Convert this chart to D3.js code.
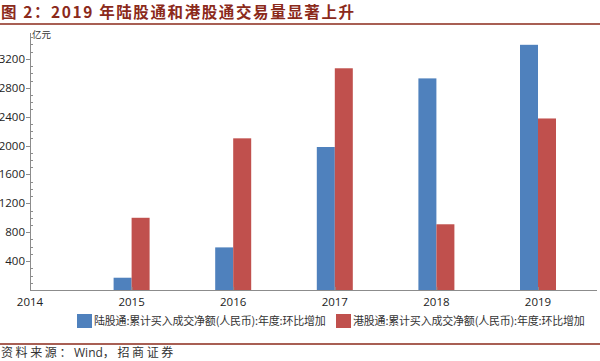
<!DOCTYPE html>
<html><head><meta charset="utf-8">
<script src="https://cdn.jsdelivr.net/npm/d3@7/dist/d3.min.js"></script>
<style>body{margin:0;background:#fff}svg{display:block}</style>
</head><body><svg id="c" width="600" height="361"></svg>
<script>
const years = [2015, 2016, 2017, 2018, 2019];
const northbound = [170, 590, 1980, 2930, 3395];
const southbound = [1000, 2100, 3070, 910, 2375];
const yTicks = [400, 800, 1200, 1600, 2000, 2400, 2800, 3200];
const xTicks = [2014, 2015, 2016, 2017, 2018, 2019];
const seriesNames = ["陆股通:累计买入成交净额(人民币):年度:环比增加", "港股通:累计买入成交净额(人民币):年度:环比增加"];
const colors = ["#4F81BD", "#C0504D"];

const svg = d3.select("#c");
const cjk = "'Noto Sans CJK SC', sans-serif";
const sans = "'Open Sans', 'Noto Sans', sans-serif";

// title
svg.append("text").attr("x", 1).attr("y", 18).attr("fill", "#8B2A1B")
  .attr("font-family", cjk).attr("font-weight", "bold").attr("font-size", 15.5)
  .attr("letter-spacing", 1.6)
  .text("图 2：2019 年陆股通和港股通交易量显著上升");
svg.append("line").attr("x1", 0).attr("x2", 600).attr("y1", 24).attr("y2", 24)
  .attr("stroke", "#8B2A1B").attr("stroke-width", 1.5);

const x = d3.scaleLinear().domain([2014, 2019]).range([30, 538]);
const y = d3.scaleLinear().domain([0, 3600]).range([290, 30]);
const bw = 18;

// bars
const g = svg.append("g");
g.selectAll(".b1").data(years).join("rect")
  .attr("x", (d) => x(d) - bw).attr("width", bw)
  .attr("y", (d, i) => y(northbound[i])).attr("height", (d, i) => y(0) - y(northbound[i]))
  .attr("fill", colors[0]);
g.selectAll(".b2").data(years).join("rect")
  .attr("x", (d) => x(d)).attr("width", bw)
  .attr("y", (d, i) => y(southbound[i])).attr("height", (d, i) => y(0) - y(southbound[i]))
  .attr("fill", colors[1]);

// y axis
const axc = "#8c8c8c";
svg.append("line").attr("x1", 30.5).attr("x2", 30.5).attr("y1", 33).attr("y2", y(0))
  .attr("stroke", axc);
const minor = d3.range(100, 3600, 100).filter(v => v % 400 !== 0);
svg.selectAll(".mn").data(minor).join("line")
  .attr("x1", 30.5).attr("x2", 33).attr("y1", d => Math.round(y(d)) + 0.5).attr("y2", d => Math.round(y(d)) + 0.5)
  .attr("stroke", axc);
svg.selectAll(".mj").data(yTicks).join("line")
  .attr("x1", 26).attr("x2", 30.5).attr("y1", d => Math.round(y(d)) + 0.5).attr("y2", d => Math.round(y(d)) + 0.5)
  .attr("stroke", axc);
svg.selectAll(".yl").data(yTicks).join("text")
  .attr("x", 25).attr("y", d => y(d)).attr("dy", "0.35em").attr("text-anchor", "end")
  .attr("font-family", sans).attr("font-size", 11.5).attr("fill", "#222")
  .text(d => d);
svg.append("text").attr("x", 32).attr("y", 38).attr("font-family", cjk).attr("font-size", 9.5)
  .attr("fill", "#333").text("亿元");

// x axis
svg.append("line").attr("x1", 30).attr("x2", 597).attr("y1", y(0) + 0.5).attr("y2", y(0) + 0.5)
  .attr("stroke", axc);
svg.selectAll(".xt").data(xTicks).join("line")
  .attr("x1", d => x(d) + 0.5).attr("x2", d => x(d) + 0.5).attr("y1", y(0) - 3).attr("y2", y(0) + 0.5)
  .attr("stroke", axc);
svg.selectAll(".xl").data(xTicks).join("text")
  .attr("x", d => x(d)).attr("y", 306).attr("text-anchor", "middle")
  .attr("font-family", sans).attr("font-size", 11.5).attr("fill", "#222")
  .text(d => d);

// legend
const lx = [77, 336];
seriesNames.forEach((n, i) => {
  svg.append("rect").attr("x", lx[i]).attr("y", 314).attr("width", 15).attr("height", 14).attr("fill", colors[i]);
  svg.append("text").attr("x", lx[i] + 17).attr("y", 321).attr("dy", "0.35em")
    .attr("font-family", cjk).attr("font-size", 11).attr("fill", "#333").attr("letter-spacing", -0.2).text(n);
});

// footer
svg.append("line").attr("x1", 0).attr("x2", 600).attr("y1", 344).attr("y2", 344)
  .attr("stroke", "#8B2A1B").attr("stroke-width", 1.5);
const src = svg.append("text").attr("x", 1).attr("y", 357).attr("font-family", cjk).attr("font-size", 12)
  .attr("fill", "#333");
src.append("tspan").attr("letter-spacing", 2.6).text("资料来源：");
src.append("tspan").attr("font-family", sans).text("Wind");
src.append("tspan").attr("letter-spacing", 2.6).text("，招商证券");
</script></body></html>
